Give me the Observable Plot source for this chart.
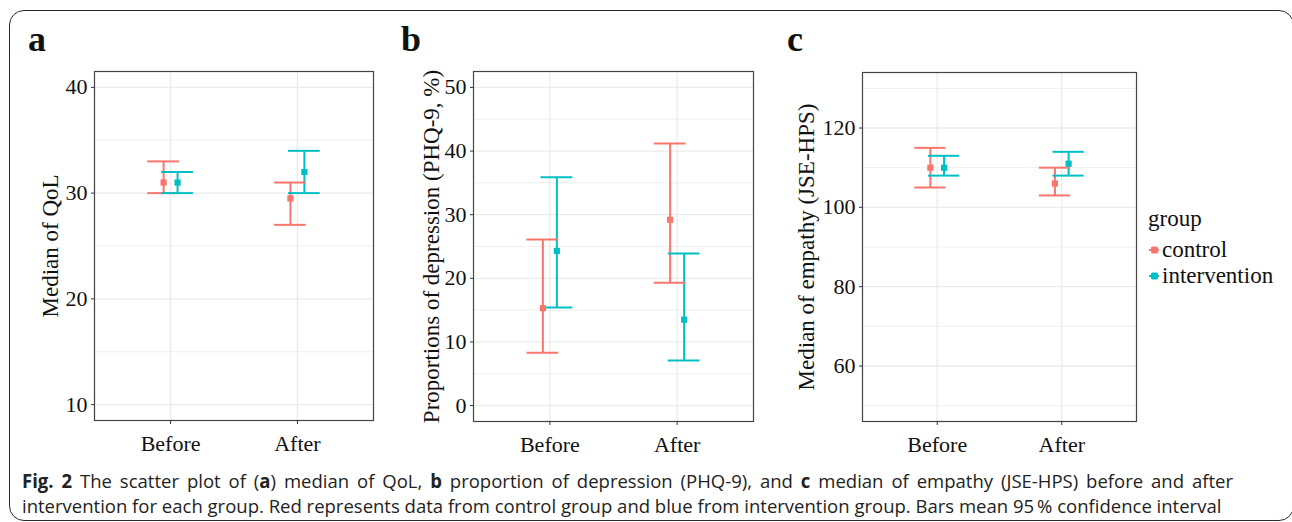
<!DOCTYPE html>
<html><head><meta charset="utf-8">
<script src="https://cdn.jsdelivr.net/npm/d3@7"></script>
<script src="https://cdn.jsdelivr.net/npm/@observablehq/plot@0.6"></script>
<style>
body{margin:0;background:#fff;}
#wrap{position:relative;width:1292px;height:522px;overflow:hidden;background:#fff;}
#border{position:absolute;left:9px;top:10px;width:1285px;height:511px;border:1.5px solid #2b2b2b;border-radius:15px;box-sizing:border-box;}
.panel{position:absolute;top:0;}
#overlay{position:absolute;left:0;top:0;}
</style></head><body>
<div id="wrap"><div id="border"></div></div>
<script>
// ---- data ----
const phases = ["Before", "After"];
const groups = ["control", "intervention"];
const groupColors = ["#F8766D", "#00BFC4"];

// (a) median of QoL
const qolTicks = [10, 20, 30, 40];
const qolMinor = [15, 25, 35];
const qolControlMed = [31, 29.5];
const qolControlLo = [30, 27];
const qolControlHi = [33, 31];
const qolInterMed = [31, 32];
const qolInterLo = [30, 30];
const qolInterHi = [32, 34];

// (b) proportion of depression (PHQ-9, %)
const depTicks = [0, 10, 20, 30, 40, 50];
const depMinor = [5, 15, 25, 35, 45];
const depControlMed = [15.3, 29.2];
const depControlLo = [8.3, 19.3];
const depControlHi = [26.1, 41.2];
const depInterMed = [24.3, 13.5];
const depInterLo = [15.4, 7.1];
const depInterHi = [35.9, 23.9];

// (c) median of empathy (JSE-HPS)
const empTicks = [60, 80, 100, 120];
const empMinor = [50, 70, 90, 110, 130];
const empControlMed = [110, 106];
const empControlLo = [105, 103];
const empControlHi = [115, 110];
const empInterMed = [110, 111];
const empInterLo = [108, 108];
const empInterHi = [113, 114];

const titles = ["Median of QoL", "Proportions of depression (PHQ-9, %)", "Median of empathy (JSE-HPS)"];
const letters = ["a", "b", "c"];
const legendTitle = "group";

// ---- drawing ----
const dodge = 0.055, capHalf = 0.125;
const wrap = document.getElementById("wrap");

function rowsFor(cm, cl, ch, im, il, ih) {
  const rows = [];
  phases.forEach((p, i) => {
    rows.push({phase: p, group: groups[0], x: i + 1 - dodge, med: cm[i], lo: cl[i], hi: ch[i]});
    rows.push({phase: p, group: groups[1], x: i + 1 + dodge, med: im[i], lo: il[i], hi: ih[i]});
  });
  return rows;
}

function panel(o) {
  const rows = o.rows;
  const grid = {stroke: "#ebebeb", strokeOpacity: 1};
  const svg = Plot.plot({
    width: o.width, height: 460,
    marginLeft: o.mL, marginRight: o.mR, marginTop: o.mT, marginBottom: o.mB,
    style: {fontFamily: "Liberation Serif", fontSize: "22px", color: "#111", background: "transparent", overflow: "visible"},
    x: {domain: [0.4, 2.6]},
    y: {domain: o.domain},
    color: {domain: groups, range: groupColors},
    marks: [
      Plot.gridY(o.minor, {...grid, strokeWidth: 0.8}),
      Plot.gridY(o.major, {...grid, strokeWidth: 1.3}),
      Plot.gridX([1, 2], {...grid, strokeWidth: 1.3}),
      Plot.ruleX(rows, {x: "x", y1: "lo", y2: "hi", stroke: "group", strokeWidth: 2}),
      Plot.ruleY(rows, {y: "hi", x1: d => d.x - capHalf, x2: d => d.x + capHalf, stroke: "group", strokeWidth: 2}),
      Plot.ruleY(rows, {y: "lo", x1: d => d.x - capHalf, x2: d => d.x + capHalf, stroke: "group", strokeWidth: 2}),
      Plot.dot(rows, {x: "x", y: "med", symbol: "square", r: 3.5, fill: "group"}),
      Plot.frame({stroke: "#444", strokeWidth: 1.2}),
      Plot.axisX({ticks: [1, 2], tickFormat: d => phases[d - 1], tickSize: 4, tickPadding: 11, label: null, fontSize: 22, stroke: "#333"}),
      Plot.axisY({ticks: o.major, tickSize: 3, tickPadding: 4, label: null, fontSize: 22, stroke: "#333"}),
      Plot.text([o.title], {frameAnchor: "left", textAnchor: "middle", rotate: -90, dx: o.titleDx, lineAnchor: "bottom", fontSize: 23, fill: "#111"})
    ]
  });
  svg.classList.add("panel");
  svg.style.left = o.left + "px";
  svg.style.position = "absolute";
  svg.style.maxWidth = "none";
  wrap.appendChild(svg);
}

panel({rows: rowsFor(qolControlMed, qolControlLo, qolControlHi, qolInterMed, qolInterLo, qolInterHi),
  domain: [8.5, 41.5], major: qolTicks, minor: qolMinor, title: titles[0],
  left: 0, width: 390, mL: 94, mR: 17, mT: 71, mB: 40, titleDx: -37});
panel({rows: rowsFor(depControlMed, depControlLo, depControlHi, depInterMed, depInterLo, depInterHi),
  domain: [-2.5, 52.5], major: depTicks, minor: depMinor, title: titles[1],
  left: 380, width: 390, mL: 93, mR: 17, mT: 71, mB: 39, titleDx: -35});
panel({rows: rowsFor(empControlMed, empControlLo, empControlHi, empInterMed, empInterLo, empInterHi),
  domain: [46, 134], major: empTicks, minor: empMinor, title: titles[2],
  left: 770, width: 380, mL: 92, mR: 14, mT: 72, mB: 39, titleDx: -49});

// overlay: panel letters, legend, caption
const ov = d3.select(wrap).append("svg").attr("id", "overlay").attr("width", 1292).attr("height", 522);
const letterX = [28, 401, 787];
letters.forEach((l, i) => ov.append("text").attr("x", letterX[i]).attr("y", 51)
  .attr("font-family", "Liberation Serif").attr("font-weight", "bold").attr("font-size", 36).attr("fill", "#111").text(l));

ov.append("text").attr("x", 1148).attr("y", 226).attr("font-family", "Liberation Serif").attr("font-size", 23).attr("fill", "#111").text(legendTitle);
groups.forEach((g, i) => {
  const y = 250 + i * 26;
  ov.append("line").attr("x1", 1149).attr("x2", 1159).attr("y1", y).attr("y2", y).attr("stroke", groupColors[i]).attr("stroke-width", 2);
  ov.append("rect").attr("x", 1151).attr("y", y - 3.5).attr("width", 7).attr("height", 7).attr("rx", 1.5).attr("fill", groupColors[i]);
  ov.append("text").attr("x", 1162).attr("y", y + 7).attr("font-family", "Liberation Serif").attr("font-size", 23).attr("fill", "#111").text(g);
});

// caption (justified first line, natural last line)
const cap1 = [["Fig. 2", true], [" The scatter plot of (", false], ["a", true], [") median of QoL, ", false], ["b", true],
  [" proportion of depression (PHQ-9), and ", false], ["c", true], [" median of empathy (JSE-HPS) before and after", false]];
const cap2 = "intervention for each group. Red represents data from control group and blue from intervention group. Bars mean 95\u2009% confidence interval";
const capLeft = 22, line1Right = 1233, line2Right = 1222;
const capG = ov.append("g").attr("font-family", "Open Sans").attr("font-size", 19).attr("fill", "#222");
const t1 = capG.append("text").attr("x", 0).attr("y", 488);
cap1.forEach(([s, b]) => t1.append("tspan").attr("font-weight", b ? "bold" : "normal").text(s));
const t2 = capG.append("text").attr("x", 0).attr("y", 513).text(cap2);
const w2 = t2.node().getComputedTextLength();
const sx = (line2Right - capLeft) / w2;
capG.attr("transform", `translate(${capLeft},0) scale(${sx},1)`);
const w1 = t1.node().getComputedTextLength();
const spaces1 = cap1.map(d => d[0]).join("").split(" ").length - 1;
t1.attr("word-spacing", ((line1Right - capLeft) / sx - w1) / spaces1);
</script>
</body></html>
